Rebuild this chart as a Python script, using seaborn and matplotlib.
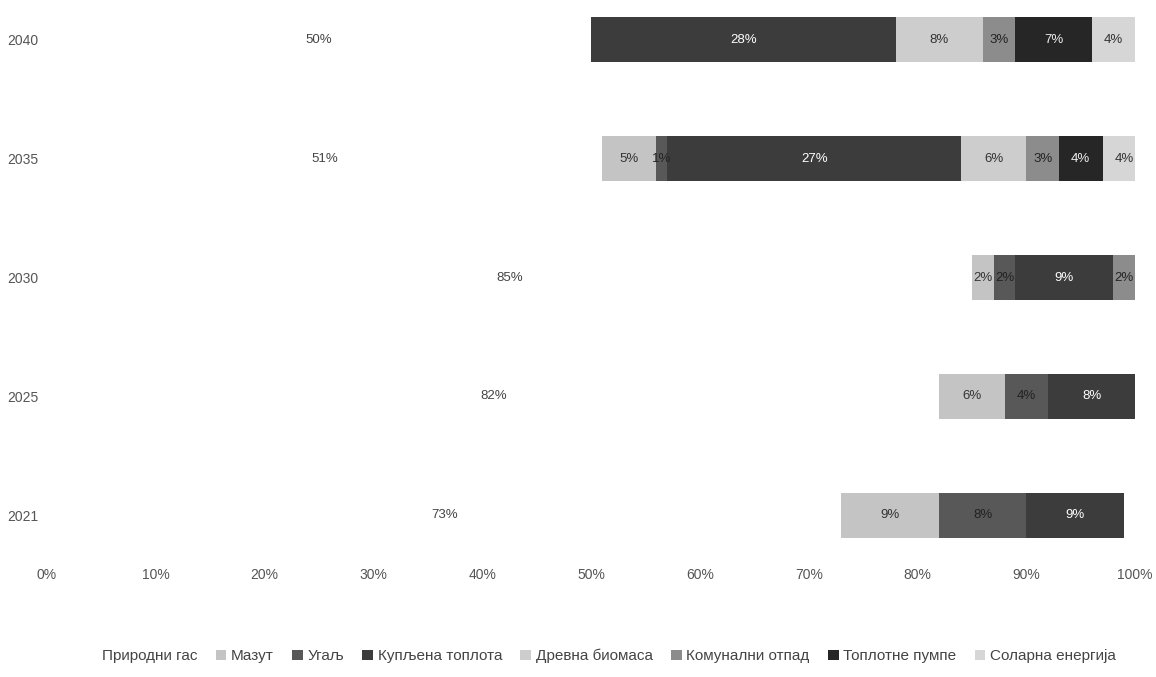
import matplotlib
matplotlib.use("Agg")
import matplotlib.pyplot as plt
import seaborn as sns
import pandas as pd
import numpy as np
from matplotlib.patches import Patch

years = ["2040", "2035", "2030", "2025", "2021"]
series_names = ["Природни гас", "Мазут", "Угаљ", "Купљена топлота",
                "Древна биомаса", "Комунални отпад", "Топлотне пумпе",
                "Соларна енергија"]
gas      = [50, 51, 85, 82, 73]
mazut    = [0, 5, 2, 6, 9]
coal     = [0, 1, 2, 4, 8]
bought   = [28, 27, 9, 8, 9]
biomass  = [8, 6, 0, 0, 0]
waste    = [3, 3, 2, 0.6, 0]
pumps    = [7, 4, 0, 0, 0]
solar    = [4, 4, 0, 0, 0]

values = [gas, mazut, coal, bought, biomass, waste, pumps, solar]
colors = ["#ffffff", "#c4c4c4", "#585858", "#3c3c3c", "#cdcdcd",
          "#8c8c8c", "#262626", "#d6d6d6"]
label_colors = ["#444444", "#333333", "#222222", "#ffffff", "#333333",
                "#222222", "#eeeeee", "#333333"]

sns.set_theme(style="white")
plt.rcParams["font.family"] = ["Liberation Sans", "DejaVu Sans"]

fig = plt.figure(figsize=(11.56, 6.77), dpi=100)
ax = fig.add_axes([0.0407, 0.186, 0.9413, 0.808])

arr = np.array(values, dtype=float)
cum = np.cumsum(arr, axis=0)

# draw cumulative bars from the widest to the narrowest
for k in range(len(series_names) - 1, -1, -1):
    df = pd.DataFrame({"year": years, "val": cum[k]})
    sns.barplot(data=df, x="val", y="year", order=years, orient="h",
                color=colors[k], width=0.38, saturation=1, ax=ax,
                edgecolor="none", linewidth=0)

for k in range(len(series_names)):
    for i, y in enumerate(years):
        v = arr[k, i]
        if v < 1:
            continue
        center = cum[k, i] - v / 2
        ax.text(center, i, f"{v:g}%", ha="center", va="center",
                fontsize=9.5, color=label_colors[k])

ax.set_xlim(0, 100)
ax.set_ylim(4.3, -0.3)
ax.set_xticks(np.arange(0, 101, 10))
ax.set_xticklabels([f"{t}%" for t in range(0, 101, 10)], fontsize=10, color="#555555")
ax.set_yticks(range(len(years)))
ax.set_yticklabels(years, fontsize=10, color="#555555")
ax.tick_params(axis="x", pad=12, length=0)
ax.tick_params(axis="y", pad=6, length=0)
ax.set_xlabel("")
ax.set_ylabel("")
for s in ax.spines.values():
    s.set_visible(False)

handles = [Patch(facecolor=c, edgecolor="none") for c in colors]
fig.legend(handles, series_names, loc="lower center", ncol=8,
           bbox_to_anchor=(0.52, 0.0), frameon=False, fontsize=11,
           handlelength=0.7, handleheight=0.7, handletextpad=0.3,
           columnspacing=1.2, labelcolor="#444444")

fig.savefig("out.png", dpi=100, facecolor="white")
